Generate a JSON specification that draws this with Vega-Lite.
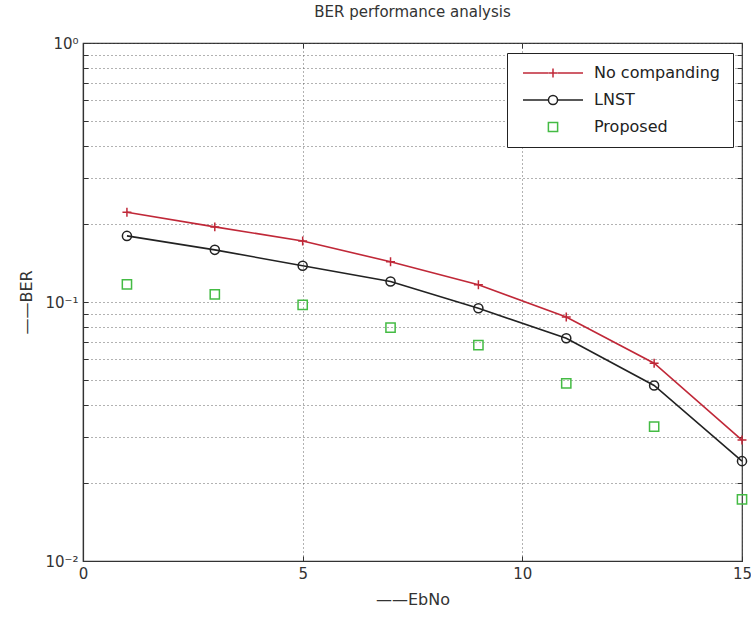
{
  "$schema": "https://vega.github.io/schema/vega-lite/v6.json",
  "width": 659,
  "height": 518,
  "autosize": {"type": "none"},
  "padding": {"left": 83, "top": 43, "right": 9, "bottom": 56},
  "background": "white",
  "config": {
    "font": "DejaVu Sans",
    "view": {"stroke": "#333", "strokeWidth": 1.2},
    "axis": {
      "labelFontSize": 15,
      "titleFontSize": 16,
      "titleFontWeight": "normal",
      "labelColor": "#333",
      "titleColor": "#333",
      "domainColor": "#333",
      "domainWidth": 1.2,
      "tickColor": "#333",
      "tickSize": -5,
      "labelPadding": 10,
      "gridColor": "#555",
      "gridDash": [1, 3],
      "gridOpacity": 0.9,
      "labelFlush": false,
      "labelOverlap": false
    }
  },
  "title": {"text": "BER performance analysis", "fontSize": 15, "fontWeight": "normal", "color": "#333", "offset": 16},
  "data": {
    "values": [
      {"x": 1, "ber": 0.222, "s": "No companding"},
      {"x": 3, "ber": 0.195, "s": "No companding"},
      {"x": 5, "ber": 0.172, "s": "No companding"},
      {"x": 7, "ber": 0.143, "s": "No companding"},
      {"x": 9, "ber": 0.1165, "s": "No companding"},
      {"x": 11, "ber": 0.0875, "s": "No companding"},
      {"x": 13, "ber": 0.058, "s": "No companding"},
      {"x": 15, "ber": 0.0293, "s": "No companding"},
      {"x": 1, "ber": 0.180, "s": "LNST"},
      {"x": 3, "ber": 0.159, "s": "LNST"},
      {"x": 5, "ber": 0.138, "s": "LNST"},
      {"x": 7, "ber": 0.120, "s": "LNST"},
      {"x": 9, "ber": 0.0946, "s": "LNST"},
      {"x": 11, "ber": 0.0724, "s": "LNST"},
      {"x": 13, "ber": 0.0476, "s": "LNST"},
      {"x": 15, "ber": 0.0243, "s": "LNST"},
      {"x": 1, "ber": 0.117, "s": "Proposed"},
      {"x": 3, "ber": 0.107, "s": "Proposed"},
      {"x": 5, "ber": 0.0974, "s": "Proposed"},
      {"x": 7, "ber": 0.0796, "s": "Proposed"},
      {"x": 9, "ber": 0.0682, "s": "Proposed"},
      {"x": 11, "ber": 0.0485, "s": "Proposed"},
      {"x": 13, "ber": 0.033, "s": "Proposed"},
      {"x": 15, "ber": 0.0173, "s": "Proposed"}
    ]
  },
  "resolve": {"axis": {"x": "independent", "y": "independent"}},
  "layer": [
    {
      "transform": [{"filter": "datum.s !== 'Proposed'"}],
      "mark": {"type": "line", "strokeWidth": 1.6},
      "encoding": {
        "x": {
          "field": "x",
          "type": "quantitative",
          "scale": {"domain": [0, 15], "nice": false, "zero": false},
          "axis": {"orient": "top", "values": [0, 5, 10, 15], "labels": false, "grid": false, "domain": false, "title": null}
        },
        "y": {
          "field": "ber",
          "type": "quantitative",
          "scale": {"type": "log", "domain": [0.01, 1], "nice": false},
          "axis": {
            "orient": "right",
            "values": [0.01, 0.02, 0.03, 0.04, 0.05, 0.06, 0.07, 0.08, 0.09, 0.1, 0.2, 0.3, 0.4, 0.5, 0.6, 0.7, 0.8, 0.9, 1],
            "labels": false,
            "grid": false,
            "domain": false,
            "title": null
          }
        },
        "stroke": {
          "field": "s",
          "type": "nominal",
          "scale": {"domain": ["No companding", "LNST"], "range": ["#c02838", "#222222"]},
          "legend": {
            "title": null,
            "orient": "none",
            "legendX": 424,
            "legendY": 10,
            "padding": 12,
            "zindex": 2,
            "labelFontSize": 16,
            "labelOpacity": 0,
            "symbolType": "M-6,0H-0.9M0.9,0H6",
            "symbolSize": 100,
            "symbolStrokeWidth": 1.6,
            "symbolOffset": 26,
            "labelOffset": 33,
            "rowPadding": 11,
            "symbolOpacity": 1
          }
        }
      }
    },
    {
      "mark": {"type": "point", "filled": false, "strokeWidth": 1.5, "opacity": 1},
      "encoding": {
        "x": {
          "field": "x",
          "type": "quantitative",
          "scale": {"domain": [0, 15], "nice": false, "zero": false},
          "axis": {"values": [0, 5, 10, 15], "grid": true, "title": "——EbNo", "titlePadding": 10}
        },
        "y": {
          "field": "ber",
          "type": "quantitative",
          "scale": {"type": "log", "domain": [0.01, 1], "nice": false},
          "axis": {
            "values": [0.01, 0.02, 0.03, 0.04, 0.05, 0.06, 0.07, 0.08, 0.09, 0.1, 0.2, 0.3, 0.4, 0.5, 0.6, 0.7, 0.8, 0.9, 1],
            "labelExpr": "datum.value == 1 ? '10⁰' : datum.value == 0.1 ? '10⁻¹' : datum.value == 0.01 ? '10⁻²' : ''",
            "grid": true,
            "title": "——BER",
            "titlePadding": 10
          }
        },
        "color": {
          "field": "s",
          "type": "nominal",
          "scale": {"domain": ["No companding", "LNST", "Proposed"], "range": ["#c02838", "#222222", "#44bb44"]},
          "legend": {
            "title": null,
            "orient": "none",
            "legendX": 424,
            "legendY": 10,
            "padding": 12,
            "zindex": 1,
            "strokeColor": "#222",
            "fillColor": "white",
            "labelFontSize": 16,
            "labelColor": "#222",
            "symbolSize": 100,
            "symbolStrokeWidth": 1.5,
            "symbolFillColor": "transparent",
            "symbolOffset": 26,
            "labelOffset": 33,
            "rowPadding": 11,
            "symbolOpacity": 1
          }
        },
        "shape": {
          "field": "s",
          "type": "nominal",
          "scale": {"domain": ["No companding", "LNST", "Proposed"], "range": ["M-1,0H1M0,-1V1", "circle", "square"]},
          "legend": null
        },
        "size": {
          "field": "s",
          "type": "nominal",
          "scale": {"domain": ["No companding", "LNST", "Proposed"], "range": [80, 85, 130]},
          "legend": null
        }
      }
    }
  ]
}
